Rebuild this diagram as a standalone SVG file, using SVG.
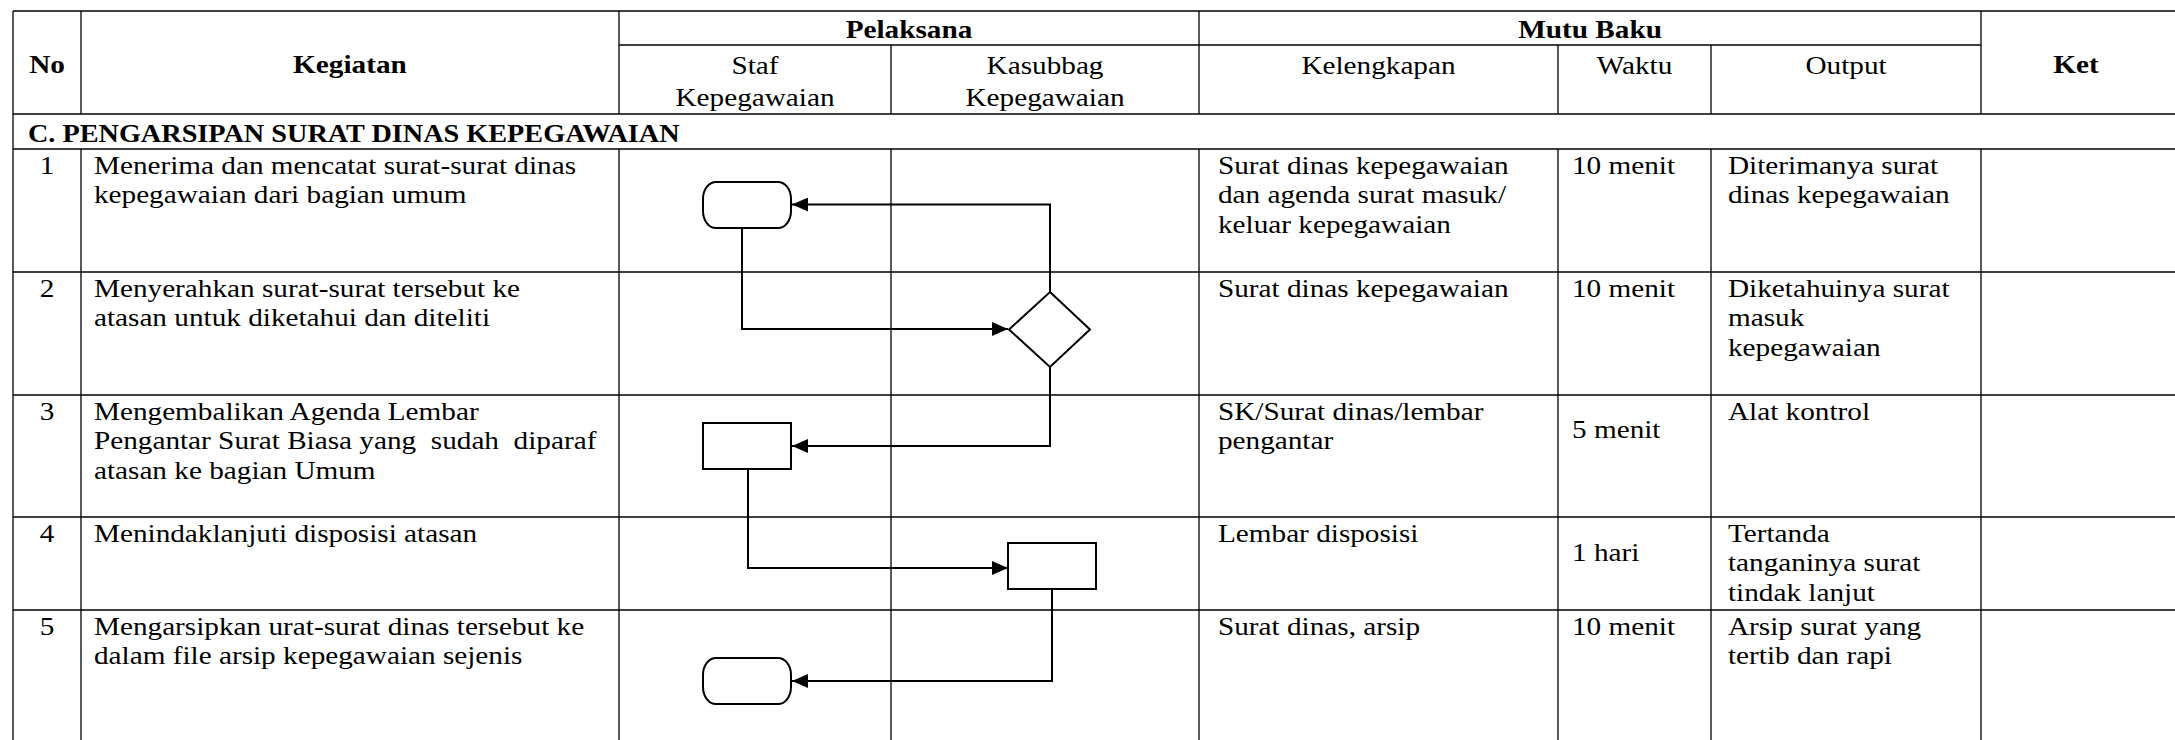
<svg xmlns="http://www.w3.org/2000/svg" width="2175" height="740" viewBox="0 0 2175 740">
<style>
.grid line{stroke:#000;stroke-width:1.3}
.shape{fill:#fff;stroke:#000;stroke-width:2}
.conn{fill:none;stroke:#000;stroke-width:2}
text{font-family:"Liberation Serif","Times New Roman",serif;font-size:25px;fill:#000;white-space:pre}
.b{font-weight:bold}
.c{text-anchor:middle}
</style>
<defs>
<marker id="arr" markerUnits="userSpaceOnUse" markerWidth="16" markerHeight="14" refX="16" refY="7" orient="auto">
<path d="M0,0 L16,7 L0,14 z" fill="#000"/>
</marker>
</defs>
<rect width="2175" height="740" fill="#fff"/>
<g class="grid">
<line x1="13" y1="11" x2="2175" y2="11"/>
<line x1="619" y1="45" x2="1981" y2="45"/>
<line x1="13" y1="114" x2="2175" y2="114"/>
<line x1="13" y1="149" x2="2175" y2="149"/>
<line x1="13" y1="272" x2="2175" y2="272"/>
<line x1="13" y1="395" x2="2175" y2="395"/>
<line x1="13" y1="517" x2="2175" y2="517"/>
<line x1="13" y1="610" x2="2175" y2="610"/>
<line x1="13" y1="11" x2="13" y2="740"/>
<line x1="81" y1="11" x2="81" y2="114"/><line x1="81" y1="149" x2="81" y2="740"/>
<line x1="619" y1="11" x2="619" y2="114"/><line x1="619" y1="149" x2="619" y2="740"/>
<line x1="891" y1="45" x2="891" y2="114"/><line x1="891" y1="149" x2="891" y2="740"/>
<line x1="1199" y1="11" x2="1199" y2="114"/><line x1="1199" y1="149" x2="1199" y2="740"/>
<line x1="1558" y1="45" x2="1558" y2="114"/><line x1="1558" y1="149" x2="1558" y2="740"/>
<line x1="1711" y1="45" x2="1711" y2="114"/><line x1="1711" y1="149" x2="1711" y2="740"/>
<line x1="1981" y1="11" x2="1981" y2="114"/><line x1="1981" y1="149" x2="1981" y2="740"/>
</g>
<g id="texts" transform="scale(1.17,1)">
<text class="b c" x="40.2" y="73">No</text>
<text class="b c" x="299.1" y="73">Kegiatan</text>
<text class="b c" x="776.9" y="38">Pelaksana</text>
<text class="c" x="645.3" y="74">Staf</text>
<text class="c" x="645.3" y="106">Kepegawaian</text>
<text class="c" x="893.2" y="74">Kasubbag</text>
<text class="c" x="893.2" y="106">Kepegawaian</text>
<text class="b c" x="1359" y="38">Mutu Baku</text>
<text class="c" x="1178.2" y="74">Kelengkapan</text>
<text class="c" x="1397" y="74">Waktu</text>
<text class="c" x="1577.8" y="74">Output</text>
<text class="b c" x="1774.4" y="73">Ket</text>
<text class="b" x="23.9" y="142" textLength="557" lengthAdjust="spacingAndGlyphs">C. PENGARSIPAN SURAT DINAS KEPEGAWAIAN</text>

<text class="c" x="40.2" y="174">1</text>
<text x="80.3" y="174">Menerima dan mencatat surat-surat dinas</text>
<text x="80.3" y="203.5">kepegawaian dari bagian umum</text>
<text x="1041" y="174">Surat dinas kepegawaian</text>
<text x="1041" y="203.5">dan agenda surat masuk/</text>
<text x="1041" y="233">keluar kepegawaian</text>
<text x="1343.6" y="174">10 menit</text>
<text x="1476.9" y="174">Diterimanya surat</text>
<text x="1476.9" y="203.5">dinas kepegawaian</text>

<text class="c" x="40.2" y="297">2</text>
<text x="80.3" y="297">Menyerahkan surat-surat tersebut ke</text>
<text x="80.3" y="326.5">atasan untuk diketahui dan diteliti</text>
<text x="1041" y="297">Surat dinas kepegawaian</text>
<text x="1343.6" y="297">10 menit</text>
<text x="1476.9" y="297">Diketahuinya surat</text>
<text x="1476.9" y="326.5">masuk</text>
<text x="1476.9" y="356">kepegawaian</text>

<text class="c" x="40.2" y="420">3</text>
<text x="80.3" y="420">Mengembalikan Agenda Lembar</text>
<text x="80.3" y="449.5">Pengantar Surat Biasa yang  sudah  diparaf</text>
<text x="80.3" y="479">atasan ke bagian Umum</text>
<text x="1041" y="420">SK/Surat dinas/lembar</text>
<text x="1041" y="449.5">pengantar</text>
<text x="1343.6" y="438">5 menit</text>
<text x="1476.9" y="420">Alat kontrol</text>

<text class="c" x="40.2" y="542">4</text>
<text x="80.3" y="542">Menindaklanjuti disposisi atasan</text>
<text x="1041" y="542">Lembar disposisi</text>
<text x="1343.6" y="561">1 hari</text>
<text x="1476.9" y="542">Tertanda</text>
<text x="1476.9" y="571.5">tanganinya surat</text>
<text x="1476.9" y="601">tindak lanjut</text>

<text class="c" x="40.2" y="635">5</text>
<text x="80.3" y="635">Mengarsipkan urat-surat dinas tersebut ke</text>
<text x="80.3" y="664.5">dalam file arsip kepegawaian sejenis</text>
<text x="1041" y="635">Surat dinas, arsip</text>
<text x="1343.6" y="635">10 menit</text>
<text x="1476.9" y="635">Arsip surat yang</text>
<text x="1476.9" y="664.5">tertib dan rapi</text>
</g>
<g id="connectors">
<path class="conn" d="M1050,292 V204.5 H792" marker-end="url(#arr)"/>
<path class="conn" d="M742,228 V329 H1008" marker-end="url(#arr)"/>
<path class="conn" d="M1050,367 V446 H792" marker-end="url(#arr)"/>
<path class="conn" d="M748,469 V568 H1008" marker-end="url(#arr)"/>
<path class="conn" d="M1052,589 V681 H792" marker-end="url(#arr)"/>
</g>
<g id="start"><rect class="shape" x="703" y="182" width="88" height="46" rx="13" ry="17"/></g>
<g id="check"><polygon class="shape" points="1050,292 1090,329.5 1050,367 1009,329.5"/></g>
<g id="return"><rect class="shape" x="703" y="423" width="88" height="46"/></g>
<g id="followup"><rect class="shape" x="1008" y="543" width="88" height="46"/></g>
<g id="end"><rect class="shape" x="703" y="658" width="88" height="46" rx="13" ry="17"/></g>
</svg>
